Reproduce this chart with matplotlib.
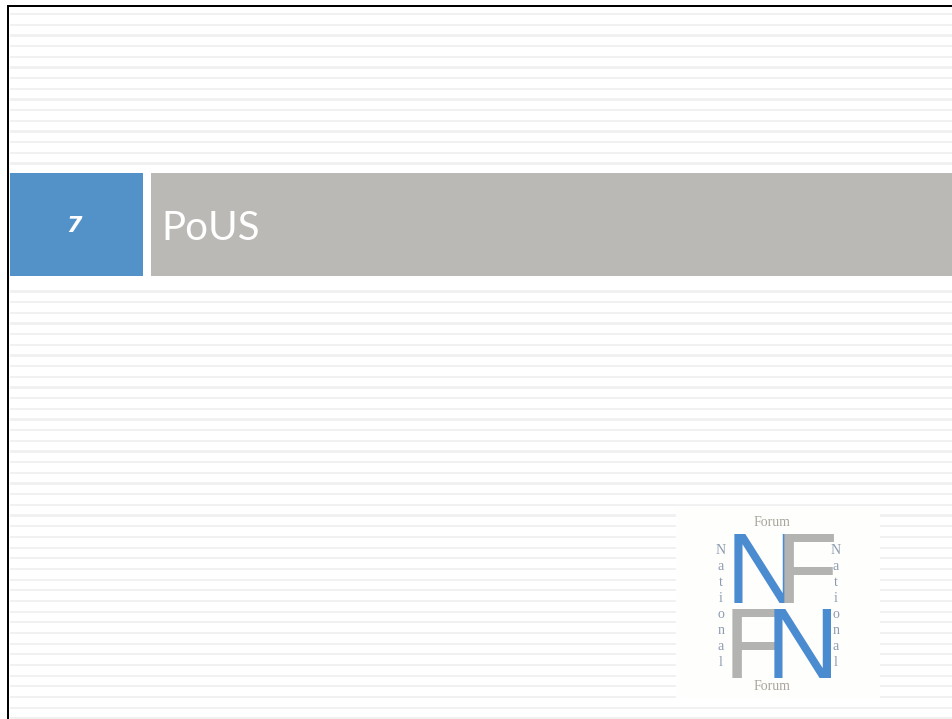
import numpy as np
import matplotlib
matplotlib.use("Agg")
import matplotlib.pyplot as plt
from matplotlib.patches import Rectangle

# slide content
slide_number = "7"
slide_title = "PoUS"
logo_big = ["N", "F", "F", "N"]
logo_small = ["Forum", "National"]

blue = "#5391c9"
gray = "#bab9b5"
logo_blue = "#4b8bd0"
logo_gray = "#b3b3b1"

fig = plt.figure(figsize=(9.52, 7.19), dpi=100)
ax = fig.add_axes([0, 0, 1, 1])
ax.set_xlim(0, 952)
ax.set_ylim(719, 0)
ax.axis("off")

# striped background
for y in np.arange(14, 719, 10.67):
    ax.add_patch(Rectangle((10, y - 1), 942, 2.2, color="#f1f1f1", lw=0))

# white band around the title bar
ax.add_patch(Rectangle((10, 166), 942, 124, color="white", lw=0))

# borders
ax.add_patch(Rectangle((7, 4.5), 945, 2.8, color="black", lw=0))
ax.add_patch(Rectangle((7, 4.5), 2.4, 715, color="black", lw=0))

# title bar
ax.add_patch(Rectangle((10, 173), 133, 103, color=blue, lw=0))
ax.add_patch(Rectangle((151, 173), 801, 103, color=gray, lw=0))
ax.text(74, 226, slide_number, color="white", fontsize=16, fontweight="bold",
        style="italic", ha="center", va="center", family="DejaVu Sans")
ax.text(161, 228, slide_title, color="white", fontsize=29, ha="left",
        va="center", family=["Lato", "DejaVu Sans"])

# logo
ax.add_patch(Rectangle((676, 507), 204, 191, color="#fefefd", lw=0))
big_font = ["Liberation Sans Narrow", "Liberation Sans", "DejaVu Sans"]
ax.text(726, 603, logo_big[0], color=logo_blue, fontsize=73, ha="left",
        va="baseline", family=big_font)
ax.text(776, 603, logo_big[1], color=logo_gray, fontsize=73, ha="left",
        va="baseline", family=big_font)
ax.text(724, 678, logo_big[2], color=logo_gray, fontsize=73, ha="left",
        va="baseline", family=big_font)
ax.text(766, 678, logo_big[3], color=logo_blue, fontsize=73, ha="left",
        va="baseline", family=big_font)

serif = ["Liberation Serif", "DejaVu Serif"]
ax.text(772, 523, logo_small[0], color="#a9a59d", fontsize=10, ha="center",
        va="center", family=serif)
ax.text(772, 687, logo_small[0], color="#a9a59d", fontsize=10, ha="center",
        va="center", family=serif)
vertical = "\n".join(logo_small[1])
ax.text(721, 606, vertical, color="#8d9bb0", fontsize=10, ha="center",
        va="center", linespacing=1.3, family=serif)
ax.text(836, 606, vertical, color="#8d9bb0", fontsize=10, ha="center",
        va="center", linespacing=1.3, family=serif)

fig.savefig("out.png", dpi=100)
